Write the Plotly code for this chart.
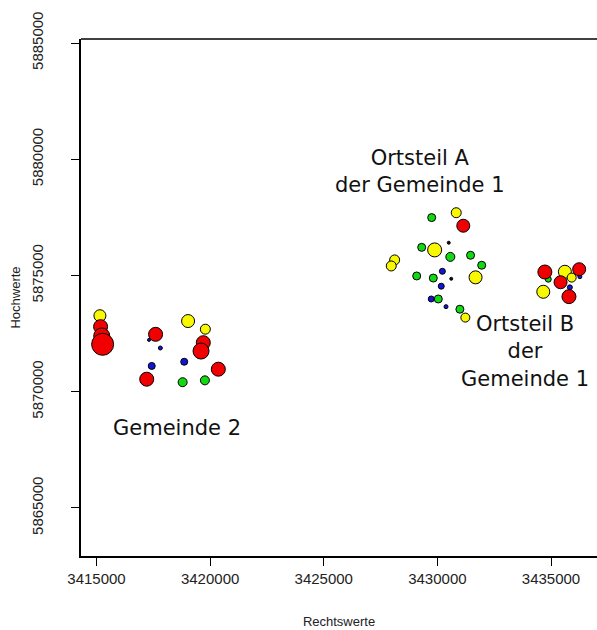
import plotly.graph_objects as go

# Gauss-Krüger coordinates of the sites, grouped by category colour
red_x = [3415180, 3415230, 3415270, 3417600, 3417210, 3419700, 3419600, 3420360,
         3431140, 3434730, 3436240, 3435420, 3435790]
red_y = [5872800, 5872400, 5872040, 5872470, 5870540, 5872110, 5871750, 5870970,
         5877140, 5875150, 5875270, 5874710, 5874090]
red_s = [14, 16, 22, 14, 14, 14, 16, 14, 13, 14, 13, 13, 14]

yellow_x = [3415150, 3419030, 3419790, 3430830, 3429880, 3428120, 3427970, 3431680,
            3431230, 3435610, 3435910, 3434660]
yellow_y = [5873270, 5873040, 5872690, 5877700, 5876100, 5875670, 5875410, 5874920,
            5873190, 5875160, 5874910, 5874300]
yellow_s = [12, 13, 10, 10, 14, 10, 10, 13, 9, 13, 9, 13]

green_x = [3418790, 3419770, 3429750, 3429310, 3430570, 3431460, 3431950, 3429090,
           3429820, 3430040, 3430990, 3434880]
green_y = [5870410, 5870490, 5877490, 5876210, 5875800, 5875870, 5875440, 5874980,
           5874890, 5873990, 5873550, 5874840]
green_s = [9, 9, 8, 8, 9, 8, 8, 8, 8, 8, 8, 6]

blue_x = [3417310, 3417810, 3417430, 3418860, 3430220, 3430170, 3429730, 3430380,
          3435830, 3436270]
blue_y = [5872230, 5871880, 5871110, 5871290, 5875180, 5874540, 5873990, 5873660,
          5874490, 5874950]
blue_s = [3, 4, 7, 7, 6, 6, 6, 4, 5, 4]

black_x = [3430500, 3430610]
black_y = [5876410, 5874860]
black_s = [3, 3]

x_ticks = [3415000, 3420000, 3425000, 3430000, 3435000]
y_ticks = [5865000, 5870000, 5875000, 5880000, 5885000]

labels = [
    ("Ortsteil A<br>der Gemeinde 1", 3429234, 5879452),
    ("Ortsteil B<br>der<br>Gemeinde 1", 3433850, 5871710),
    ("Gemeinde 2", 3418542, 5868441),
]

fig = go.Figure()

groups = [
    (green_x, green_y, green_s, "#14d814"),
    (blue_x, blue_y, blue_s, "#1414d8"),
    (yellow_x, yellow_y, yellow_s, "#f8f800"),
    (red_x, red_y, red_s, "#f00000"),
    (black_x, black_y, black_s, "#111111"),
]
for xs, ys, ss, col in groups:
    fig.add_trace(go.Scatter(
        x=xs, y=ys, mode="markers",
        marker=dict(size=ss, color=col, opacity=1,
                    line=dict(color="black", width=1)),
        showlegend=False, hoverinfo="skip",
    ))

for txt, lx, ly in labels:
    fig.add_annotation(x=lx, y=ly, text=txt, showarrow=False,
                       font=dict(family="DejaVu Sans", size=21, color="#111111"),
                       align="center", xanchor="center", yanchor="middle")

# top border of the plot box
fig.add_shape(type="line", xref="paper", yref="paper", x0=0, x1=1, y0=1, y1=1,
              line=dict(color="black", width=1.5))

axis_font = dict(family="Liberation Sans, Arial", size=15, color="#222222")
title_font = dict(family="Liberation Sans, Arial", size=13, color="#222222")
fig.update_xaxes(
    range=[3414318, 3437024], tickvals=x_ticks, tickformat="d",
    showgrid=False, zeroline=False, showline=True, linecolor="black", linewidth=1.5,
    ticks="outside", ticklen=8, tickcolor="black", tickwidth=1,
    tickfont=axis_font,
    title=dict(text="Rechtswerte", font=title_font, standoff=31),
)
fig.update_yaxes(
    range=[5862935, 5885172], tickvals=y_ticks, tickformat="d", tickangle=-90,
    showgrid=False, zeroline=False, showline=True, linecolor="black", linewidth=1.5,
    ticks="outside", ticklen=8, tickcolor="black", tickwidth=1,
    tickfont=axis_font, ticklabelstandoff=22,
    title=dict(text="Hochwerte", font=title_font, standoff=6),
)
fig.update_layout(
    width=597, height=630,
    margin=dict(l=81, r=0, t=39, b=74),
    paper_bgcolor="white", plot_bgcolor="white",
)

fig.write_html("out.html")
